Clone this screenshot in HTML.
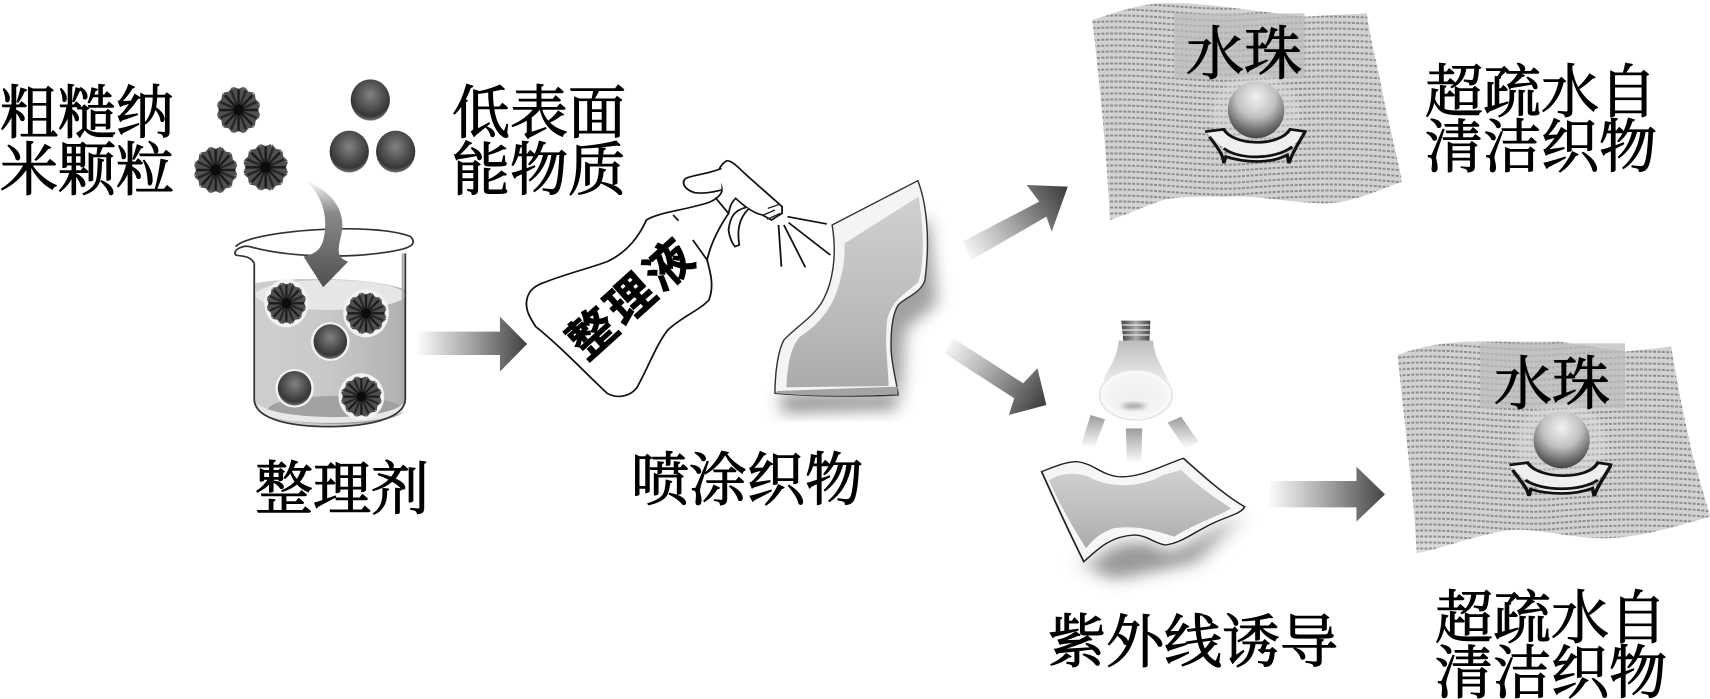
<!DOCTYPE html>
<html><head><meta charset="utf-8"><style>
html,body{margin:0;padding:0;background:#fff;width:1710px;height:699px;overflow:hidden}
svg{display:block}
text{font-family:"Liberation Serif","Noto Serif CJK SC",serif;font-size:58px;fill:#000;stroke:#000;stroke-width:1.1px}
</style></head><body>
<svg width="1710" height="699" viewBox="0 0 1710 699" xmlns="http://www.w3.org/2000/svg">
<defs>
<radialGradient id="sph" cx=".5" cy=".38" r=".64"><stop offset="0" stop-color="#828282"/><stop offset=".5" stop-color="#525252"/><stop offset=".8" stop-color="#363636"/><stop offset=".93" stop-color="#666"/><stop offset="1" stop-color="#c4c4c4"/></radialGradient>
<radialGradient id="drop" cx=".5" cy=".28" r=".78"><stop offset="0" stop-color="#f2f2f2"/><stop offset=".45" stop-color="#c0c0c0"/><stop offset=".75" stop-color="#6e6e6e"/><stop offset="1" stop-color="#333"/></radialGradient>
<radialGradient id="bulb" cx=".5" cy=".5" r=".55"><stop offset="0" stop-color="#f0f0f0"/><stop offset=".7" stop-color="#f4f4f4"/><stop offset="1" stop-color="#fdfdfd"/></radialGradient>
<linearGradient id="neck" x1="0" y1="0" x2="0" y2="1"><stop offset="0" stop-color="#bdbdbd"/><stop offset="1" stop-color="#ebebeb"/></linearGradient>
<linearGradient id="a1" gradientUnits="userSpaceOnUse" x1="1165" y1="0" x2="1470" y2="0"><stop offset="0" stop-color="#fff"/><stop offset=".5" stop-color="#a5a5a5"/><stop offset="1" stop-color="#444"/></linearGradient>
<linearGradient id="a2" gradientUnits="userSpaceOnUse" x1="1290" y1="370" x2="1590" y2="180"><stop offset="0" stop-color="#fff"/><stop offset=".5" stop-color="#a0a0a0"/><stop offset="1" stop-color="#3c3c3c"/></linearGradient>
<linearGradient id="a3" gradientUnits="userSpaceOnUse" x1="1245" y1="630" x2="1530" y2="825"><stop offset="0" stop-color="#fff"/><stop offset=".5" stop-color="#a0a0a0"/><stop offset="1" stop-color="#3c3c3c"/></linearGradient>
<linearGradient id="a4" gradientUnits="userSpaceOnUse" x1="590" y1="0" x2="850" y2="0"><stop offset="0" stop-color="#fff"/><stop offset=".5" stop-color="#a5a5a5"/><stop offset="1" stop-color="#444"/></linearGradient>
<linearGradient id="curve" x1="0" y1="0" x2="0" y2="1"><stop offset="0" stop-color="#fff"/><stop offset=".3" stop-color="#8a8a8a"/><stop offset="1" stop-color="#505050"/></linearGradient>
<linearGradient id="water" x1="0" y1="0" x2="1" y2="0"><stop offset="0" stop-color="#cfcfcf"/><stop offset=".5" stop-color="#c8c8c8"/><stop offset="1" stop-color="#b0b0b0"/></linearGradient>
<linearGradient id="fab" x1="0" y1="0" x2="0" y2="1"><stop offset="0" stop-color="#d0d0d0"/><stop offset=".6" stop-color="#bcbcbc"/><stop offset="1" stop-color="#ababab"/></linearGradient>
<linearGradient id="ray" x1="0" y1="0" x2="0" y2="1"><stop offset="0" stop-color="#9c9c9c"/><stop offset="1" stop-color="#fff"/></linearGradient>
<linearGradient id="base" x1="0" y1="0" x2="0" y2="1"><stop offset="0" stop-color="#d2d2d2"/><stop offset=".82" stop-color="#d2d2d2"/><stop offset="1" stop-color="#e2e2e2"/></linearGradient>
<linearGradient id="cap" x1="0" y1="0" x2="1" y2="0"><stop offset="0" stop-color="#444"/><stop offset=".5" stop-color="#aaa"/><stop offset="1" stop-color="#444"/></linearGradient>
<filter id="bl" x="-40%" y="-40%" width="180%" height="180%"><feGaussianBlur stdDeviation="22"/></filter>
<filter id="bl2" x="-30%" y="-30%" width="160%" height="160%"><feGaussianBlur stdDeviation="6"/></filter>

<g id="flower">
<g fill="#505050">
<path id="pt" d="M-.24,-.2 L-.22,-.92 L0,-.84 L.22,-.92 L.24,-.2Z"/>
<use href="#pt" transform="rotate(30)"/><use href="#pt" transform="rotate(60)"/><use href="#pt" transform="rotate(90)"/><use href="#pt" transform="rotate(120)"/><use href="#pt" transform="rotate(150)"/><use href="#pt" transform="rotate(180)"/><use href="#pt" transform="rotate(210)"/><use href="#pt" transform="rotate(240)"/><use href="#pt" transform="rotate(270)"/><use href="#pt" transform="rotate(300)"/><use href="#pt" transform="rotate(330)"/>
</g>
<circle r=".75" fill="#505050"/>
<g stroke="#1c1c1c" stroke-width=".1">
<path d="M0,-.82V.82M-.82,0H.82M-.58,-.58L.58,.58M-.58,.58L.58,-.58"/>
<path d="M-.31,-.76L.31,.76M.31,-.76L-.31,.76M-.76,-.31L.76,.31M-.76,.31L.76,-.31" stroke="#262626"/>
</g>
<circle r=".22" fill="#0c0c0c"/>
</g>
<circle id="ball" r="1" fill="url(#sph)"/>

<path id="w" d="M0,0 C60,-8 120,6 170,2 S280,-4 340,4" fill="none" stroke="#8e8e8e" stroke-width="2" stroke-dasharray="3 1.4"/>
<g id="rows">
<use href="#w" y="6"/><use href="#w" y="12"/><use href="#w" y="18"/><use href="#w" y="24"/><use href="#w" y="30"/><use href="#w" y="36"/><use href="#w" y="42"/><use href="#w" y="48"/><use href="#w" y="54"/><use href="#w" y="60"/><use href="#w" y="66"/><use href="#w" y="72"/><use href="#w" y="78"/><use href="#w" y="84"/><use href="#w" y="90"/><use href="#w" y="96"/><use href="#w" y="102"/><use href="#w" y="108"/><use href="#w" y="114"/><use href="#w" y="120"/><use href="#w" y="126"/><use href="#w" y="132"/><use href="#w" y="138"/><use href="#w" y="144"/><use href="#w" y="150"/><use href="#w" y="156"/><use href="#w" y="162"/><use href="#w" y="168"/><use href="#w" y="174"/><use href="#w" y="180"/><use href="#w" y="186"/><use href="#w" y="192"/><use href="#w" y="198"/><use href="#w" y="204"/><use href="#w" y="210"/><use href="#w" y="216"/><use href="#w" y="222"/><use href="#w" y="228"/>
</g>
<clipPath id="c1"><path transform="translate(1060,0) scale(.4146,.3333)" d="M78,60 C130,40 180,15 240,10 C330,5 420,25 490,35 L590,50 L740,40 C750,130 765,190 775,260 C790,360 810,450 825,545 C760,575 700,610 640,610 C560,610 480,585 400,590 C330,590 280,590 250,600 C200,620 160,645 120,660 C115,500 100,300 78,60Z"/></clipPath>
<clipPath id="c2"><path transform="translate(1000,300) scale(.4529,.3333)" d="M878,165 C930,140 970,130 1030,125 L1235,125 L1380,155 L1482,140 C1495,250 1510,350 1530,470 L1568,650 C1490,680 1410,715 1330,715 C1260,715 1190,685 1130,690 C1060,700 980,745 920,760 C915,600 895,400 878,165Z"/></clipPath>
</defs>

<!-- left cluster -->
<g transform="translate(0,50) scale(.3571,.3333)">
  <use href="#flower" transform="translate(668,180) scale(66,76)"/>
  <use href="#flower" transform="translate(604,360) scale(66,76)"/>
  <use href="#flower" transform="translate(744,352) scale(68,76)"/>
  <use href="#ball" transform="translate(1037,150) scale(55,62)"/>
  <use href="#ball" transform="translate(978,305) scale(55,63)"/>
  <use href="#ball" transform="translate(1108,305) scale(55,63)"/>
  <!-- beaker -->
  <path d="M715,700 C800,680 1050,680 1135,720 L1135,1050 C1130,1110 1000,1130 920,1130 C820,1130 720,1110 715,1050Z" fill="url(#water)"/>
  <ellipse cx="925" cy="735" rx="210" ry="45" fill="#e6e6e6"/>
  <ellipse cx="940" cy="1080" rx="190" ry="42" fill="#a2a2a2"/>
  <path d="M720,1060 C760,1110 1080,1120 1130,1060 L1130,1085 C1060,1130 780,1130 725,1085Z" fill="#e8e8e8"/>
  <g fill="#f2f2f2">
    <ellipse cx="802" cy="760" rx="62" ry="72"/><ellipse cx="1025" cy="790" rx="64" ry="72"/><ellipse cx="1012" cy="1040" rx="64" ry="70"/><ellipse cx="925" cy="875" rx="54" ry="58"/><ellipse cx="825" cy="1015" rx="54" ry="58"/>
  </g>
  <use href="#flower" transform="translate(802,760) scale(60,68)"/>
  <use href="#flower" transform="translate(1025,790) scale(62,68)"/>
  <use href="#flower" transform="translate(1012,1040) scale(62,66)"/>
  <use href="#ball" transform="translate(925,875) scale(47,52)"/>
  <use href="#ball" transform="translate(825,1015) scale(47,52)"/>
  <path d="M712,640 L712,1050 C715,1110 820,1130 920,1130 C1020,1130 1130,1110 1135,1050 L1135,610" fill="none" stroke="#333" stroke-width="5"/>
  <path d="M1128,610 L1128,1060" stroke="#aaa" stroke-width="6" fill="none"/>
  <path d="M660,590 C700,540 1050,515 1150,560 C1175,590 1130,600 1060,610 C950,625 800,620 700,590 C680,585 650,600 660,615 C675,620 700,615 712,640" fill="#fff" fill-opacity=".6" stroke="#333" stroke-width="5"/>
  <!-- curved arrow -->
  <path d="M855,390 C920,420 965,470 958,540 C950,590 935,620 975,635 L905,712 L850,620 C885,610 905,600 910,540 C915,480 895,430 855,390Z" fill="url(#curve)"/>
  <path d="M1165,845 L1400,845 L1400,800 L1476,882 L1400,965 L1400,915 L1165,915Z" fill="url(#a1)"/>
</g>

<!-- bottle & fabric -->
<g transform="translate(500,130) scale(.3571,.3333)">
  <path d="M1010,420 L1200,260 L1225,520 L1135,600 L1125,800 L1000,700Z" fill="#555" filter="url(#bl)" opacity=".55"/>
  <path d="M785,790 L1115,790 L1110,840 L790,850Z" fill="#555" filter="url(#bl)" opacity=".6"/>
  <path d="M75,510 C80,480 100,465 130,455 C190,430 250,415 300,395 C350,370 385,330 410,270 C440,250 490,245 560,225 C580,220 595,215 605,205 L640,250 C615,290 590,340 580,390 C590,430 600,470 585,510 C560,540 510,560 470,600 C440,640 420,700 385,770 C370,795 335,810 300,790 C240,730 170,650 100,590 C85,565 70,540 75,510Z" fill="#fff" stroke="#111" stroke-width="5"/>
  <path d="M605,205 C625,190 625,180 615,150 C605,130 615,105 635,92 C650,92 665,110 690,135 L790,230 L790,250 L760,270 L735,255 C710,250 680,225 660,205 C650,215 645,225 640,250 Z" fill="#fff" stroke="#111" stroke-width="5"/>
  <path d="M620,115 C590,130 540,135 520,145 C505,160 520,180 545,188 C575,192 600,185 620,180" fill="#fff" stroke="#111" stroke-width="5"/>
  <path d="M690,232 C660,240 645,255 640,300 C642,320 650,340 658,350 L670,345 C665,310 665,270 695,238" fill="#fff" stroke="#111" stroke-width="5"/>
  <path d="M750,235 L785,222 M738,255 L770,240 M748,268 L785,250" stroke="#222" stroke-width="4" fill="none"/>
  <path d="M805,260 L915,282 M808,278 L925,375 M795,285 L855,412 M780,285 L788,410 M540,330 L580,390 M485,255 L500,272" stroke="#111" stroke-width="5" fill="none"/>
  <path d="M930,285 L1170,152 C1195,220 1205,330 1190,450 C1180,490 1130,505 1115,525 C1095,560 1095,620 1095,650 C1095,700 1110,750 1115,795 C1000,800 880,800 770,790 C770,720 780,660 795,630 C830,590 880,560 905,510 C930,460 945,380 930,285Z" fill="#f4f4f4" stroke="#333" stroke-width="4"/>
  <path d="M965,340 L1172,200 C1188,300 1188,400 1172,455 C1140,490 1100,505 1085,565 C1075,640 1088,710 1088,768 L802,772 C805,700 815,650 840,620 C900,580 940,520 955,440 C965,400 965,370 965,340Z" fill="url(#fab)"/>
  <path d="M775,783 L1113,770 L1113,792 C1000,800 880,800 775,790Z" fill="#a4a4a4"/>
  <!-- diagonal arrows -->
  <path d="M1295,335 L1510,215 L1475,165 L1590,170 L1545,305 L1530,260 L1320,390 Z" fill="url(#a2)"/>
  <path d="M1270,625 L1465,760 L1505,715 L1530,825 L1425,855 L1440,805 L1245,670 Z" fill="url(#a3)"/>
</g>
<text transform="translate(632,298) rotate(-42)" text-anchor="middle" dominant-baseline="central" style="font-family:'Liberation Sans','Noto Sans CJK SC',sans-serif;font-size:47px;font-weight:700;letter-spacing:4px;stroke-width:.8px">整理液</text>

<!-- flag 1 -->
<g clip-path="url(#c1)">
  <rect x="1080" y="0" width="340" height="240" fill="url(#base)"/>
  <use href="#rows" transform="translate(1075,0)"/>
</g>
<g transform="translate(1060,0) scale(.4146,.3333)">
  <rect x="275" y="40" width="315" height="195" fill="#bcbcbc" opacity=".75"/>
  <ellipse cx="473" cy="345" rx="105" ry="120" fill="#ddd" opacity=".45" filter="url(#bl2)"/>
  <ellipse cx="473" cy="330" rx="68" ry="85" fill="url(#drop)"/>
  <path d="M350,395 L395,388 C420,440 530,440 555,388 L595,395 L560,440 C520,500 430,495 395,445Z" fill="#efefef"/>
  <path d="M350,395 L395,388 C420,440 530,440 555,388 L595,395 M360,410 C385,450 395,470 395,490 L400,470 C450,490 510,490 548,465 L552,490 C560,460 575,430 590,398 M395,445 C430,480 520,480 560,440" fill="none" stroke="#111" stroke-width="8"/>
</g>
<text x="1186" y="74">水珠</text>

<!-- flag 2 -->
<g clip-path="url(#c2)">
  <rect x="1390" y="330" width="325" height="240" fill="url(#base)"/>
  <use href="#rows" transform="translate(1385,335)"/>
</g>
<g transform="translate(1000,300) scale(.4529,.3333)">
  <rect x="1060" y="130" width="320" height="195" fill="#bcbcbc" opacity=".75"/>
  <ellipse cx="1240" cy="430" rx="100" ry="120" fill="#ddd" opacity=".45" filter="url(#bl2)"/>
  <ellipse cx="1240" cy="420" rx="62" ry="85" fill="url(#drop)"/>
  <path d="M1125,495 L1165,488 C1190,540 1300,540 1320,488 L1352,495 L1320,540 C1285,590 1195,590 1160,540Z" fill="#efefef"/>
  <path d="M1125,495 L1165,488 C1190,540 1300,540 1320,488 L1352,495 M1132,510 C1150,545 1165,565 1168,588 L1172,568 C1215,585 1270,585 1308,565 L1312,588 C1320,555 1335,530 1348,498 M1160,540 C1195,575 1285,575 1320,540" fill="none" stroke="#111" stroke-width="8"/>
  <!-- lamp -->
  <path d="M262,122 L338,122 C340,170 358,200 372,240 L228,240 C242,200 260,170 262,122Z" fill="url(#neck)"/>
  <path d="M268,62 L332,62 L330,122 L272,122Z" fill="url(#cap)"/>
  <path d="M270,75 H330 M270,90 H330 M270,105 H330" stroke="#e8e8e8" stroke-width="4"/>
  <ellipse cx="300" cy="285" rx="80" ry="75" fill="url(#bulb)" stroke="#e4e4e4" stroke-width="4"/>
  <ellipse cx="295" cy="318" rx="26" ry="9" fill="#a6a6a6" filter="url(#bl2)"/>
  <path d="M200,345 L232,358 L208,445 L180,432Z" fill="url(#ray)"/>
  <path d="M278,385 L314,385 L312,490 L280,490Z" fill="url(#ray)"/>
  <path d="M370,368 L400,350 L438,425 L410,448Z" fill="url(#ray)"/>
  <!-- lower fabric -->
  <path d="M150,770 L185,800 L260,730 L330,725 L375,760 L540,640 L430,790 L250,840Z" fill="#555" filter="url(#bl)" opacity=".6"/>
  <path d="M92,515 C120,500 145,485 170,485 C205,490 225,525 260,530 C310,535 360,495 405,475 C450,530 500,590 540,620 C535,640 500,650 470,670 C430,695 400,730 365,735 C340,730 325,705 295,705 C240,710 215,750 185,785 C150,690 120,600 92,515Z" fill="#f6f6f6" stroke="#222" stroke-width="4"/>
  <path d="M108,540 C135,520 165,515 195,530 C240,565 310,565 360,525 L400,510 C430,550 470,590 510,625 C480,650 430,670 385,710 C340,690 300,675 250,685 C220,700 205,720 190,745 C160,680 130,610 108,540Z" fill="url(#fab)"/>
  <!-- arrow -->
  <path d="M590,543 L787,543 L787,500 L850,583 L787,665 L787,622 L590,622Z" fill="url(#a4)"/>
</g>

<!-- labels -->
<text x="0" y="133">粗糙纳</text>
<text x="0" y="190">米颗粒</text>
<text x="452" y="133">低表面</text>
<text x="452" y="190">能物质</text>
<text x="255" y="509">整理剂</text>
<text x="631" y="500">喷涂织物</text>
<text x="1425" y="112">超疏水自</text>
<text x="1425" y="167">清洁织物</text>
<text x="1048" y="662">紫外线诱导</text>
<text x="1435" y="638">超疏水自</text>
<text x="1435" y="693">清洁织物</text>
<text x="1494" y="404">水珠</text>
</svg>
</body></html>
